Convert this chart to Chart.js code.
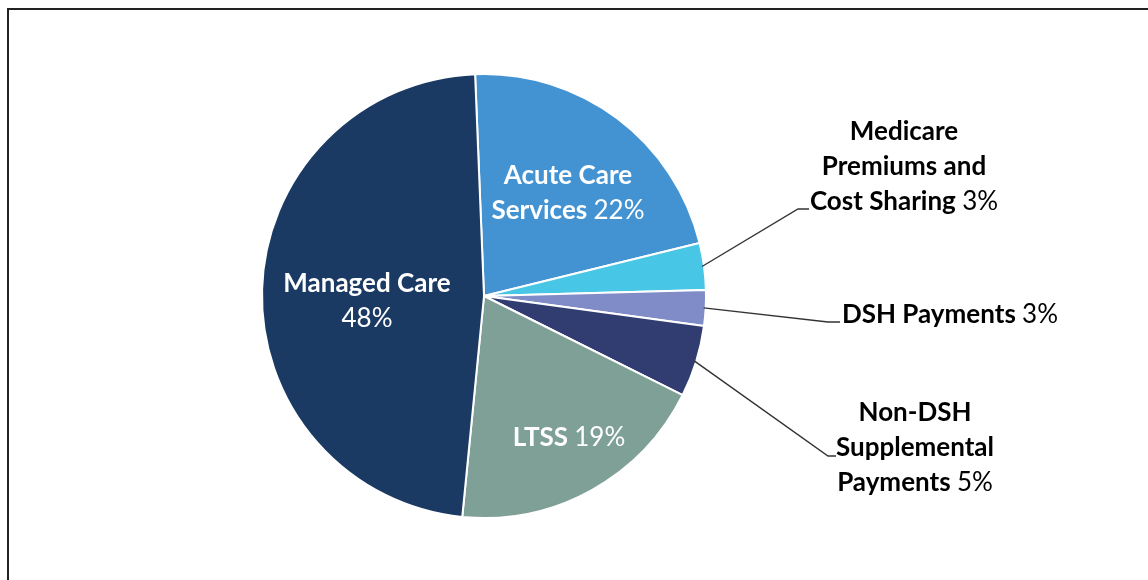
<!DOCTYPE html>
<html>
<head>
<meta charset="utf-8">
<script src="https://cdn.jsdelivr.net/npm/chart.js@4"></script>
<style>
  html, body { margin: 0; padding: 0; background: #fff; }
  #wrap { position: relative; width: 1148px; height: 580px; }
</style>
</head>
<body>
<div id="wrap"><canvas id="spendChart" width="1148" height="580"></canvas></div>
<script>
// slices, clockwise from 12 o'clock
let categories = ['Acute Care Services', 'Medicare Premiums and Cost Sharing', 'DSH Payments',
                  'Non-DSH Supplemental Payments', 'LTSS', 'Managed Care'];
let shares = [21.8, 3.4, 2.6, 5.2, 19.2, 47.8];
let shareLabels = ['22%', '3%', '3%', '5%', '19%', '48%'];

let sliceColors = ['#4393D3', '#48C6E6', '#7F8CC8', '#313D70', '#7FA097', '#1B3A63'];

// label text lines: [boldPart, normalPart]
let labelLines = [
    [['Acute Care', ''], ['Services ', shareLabels[0]]],
    [['Medicare', ''], ['Premiums and', ''], ['Cost Sharing ', shareLabels[1]]],
    [['DSH Payments ', shareLabels[2]]],
    [['Non-DSH', ''], ['Supplemental', ''], ['Payments ', shareLabels[3]]],
    [['LTSS ', shareLabels[4]]],
    [['Managed Care', ''], ['', shareLabels[5]]]
];

// where each label block sits (center x, first line middle y) and how it connects
let labelPos = [
    {x: 568, y: 176, color: '#fff'},
    {x: 904, y: 132, color: '#000', elbow: [798, 209], end: 809},
    {x: 950, y: 315, color: '#000', elbow: [828, 322], end: 840},
    {x: 915, y: 413, color: '#000', elbow: [828, 456], end: 836},
    {x: 569, y: 438, color: '#fff'},
    {x: 367, y: 284, color: '#fff'}
];
let lineGap = 35;
let fontFamily = 'Lato, "Open Sans", sans-serif';

let framePlugin = {
    id: 'frame',
    beforeDraw(chart) {
        let ctx = chart.ctx;
        ctx.save();
        ctx.strokeStyle = '#222';
        ctx.lineWidth = 2;
        ctx.beginPath();
        ctx.moveTo(8, 600);
        ctx.lineTo(8, 9);
        ctx.lineTo(1160, 9);
        ctx.stroke();
        ctx.restore();
    }
};

let labelPlugin = {
    id: 'sliceLabels',
    afterDatasetsDraw(chart) {
        let ctx = chart.ctx;
        let arcs = chart.getDatasetMeta(0).data;
        ctx.save();
        arcs.forEach((arc, i) => {
            let pos = labelPos[i];
            if (pos.elbow) {
                let mid = (arc.startAngle + arc.endAngle) / 2;
                let sx = arc.x + Math.cos(mid) * (arc.outerRadius - 2);
                let sy = arc.y + Math.sin(mid) * (arc.outerRadius - 2);
                ctx.strokeStyle = '#333';
                ctx.lineWidth = 1.4;
                ctx.beginPath();
                ctx.moveTo(sx, sy);
                ctx.lineTo(pos.elbow[0], pos.elbow[1]);
                ctx.lineTo(pos.end, pos.elbow[1]);
                ctx.stroke();
            }
            ctx.fillStyle = pos.color;
            ctx.textBaseline = 'middle';
            ctx.textAlign = 'left';
            labelLines[i].forEach((ln, k) => {
                let boldFont = 'bold 26px ' + fontFamily;
                let normFont = '26px ' + fontFamily;
                ctx.font = boldFont;
                let wb = ctx.measureText(ln[0]).width;
                ctx.font = normFont;
                let wn = ctx.measureText(ln[1]).width;
                let x0 = pos.x - (wb + wn) / 2;
                let y = pos.y + k * lineGap;
                ctx.font = boldFont;
                ctx.fillText(ln[0], x0, y);
                ctx.font = normFont;
                ctx.fillText(ln[1], x0 + wb, y);
            });
        });
        ctx.restore();
    }
};

let spendChart = new Chart(document.getElementById('spendChart'), {
    type: 'pie',
    data: {
        labels: categories,
        datasets: [{
            data: shares,
            backgroundColor: sliceColors,
            borderColor: '#fff',
            borderWidth: 2
        }]
    },
    options: {
        responsive: false,
        animation: false,
        rotation: -2.3,
        layout: {padding: {left: 261, right: 441, top: 73, bottom: 61}},
        plugins: {
            legend: {display: false},
            tooltip: {enabled: false}
        }
    },
    plugins: [framePlugin, labelPlugin]
});
</script>
</body>
</html>
